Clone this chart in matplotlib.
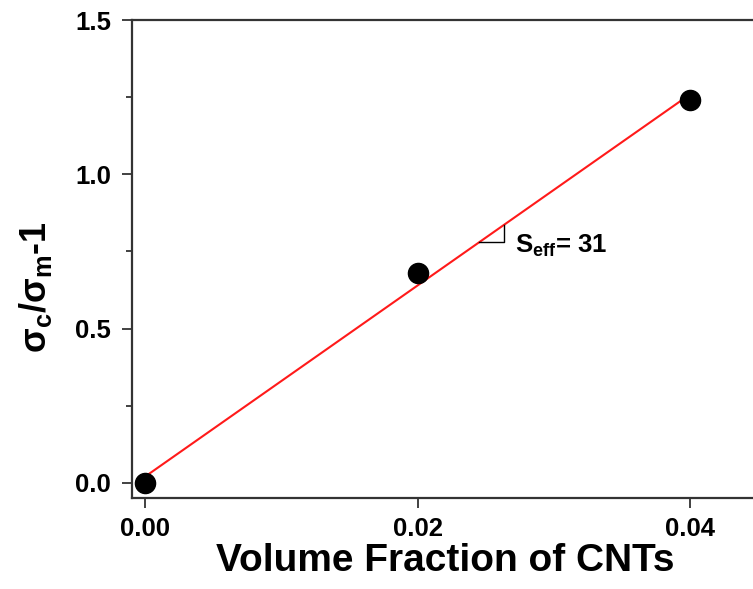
import matplotlib
matplotlib.use("Agg")
import matplotlib.pyplot as plt
import numpy as np

plt.rcParams['font.family'] = ['Liberation Sans', 'DejaVu Sans']
plt.rcParams['mathtext.fontset'] = 'custom'
plt.rcParams['mathtext.rm'] = 'Liberation Sans:bold'
plt.rcParams['mathtext.it'] = 'Liberation Sans:bold'
plt.rcParams['mathtext.bf'] = 'Liberation Sans:bold'

# Data
volume_fraction = [0.00, 0.02, 0.04]
sigma_ratio = [0.00, 0.68, 1.24]
fit_slope = 31.0
fit_intercept = 0.02
fit_range = [0.00, 0.04]
triangle_x = [0.0245, 0.0263]
x_ticks = [0.00, 0.02, 0.04]
x_tick_labels = ['0.00', '0.02', '0.04']
y_ticks = [0.0, 0.5, 1.0, 1.5]
y_tick_labels = ['0.0', '0.5', '1.0', '1.5']

fig = plt.figure(figsize=(7.53, 5.89), dpi=100)
W, H = 753, 589
left, right, top, bottom = 132, 760, 20, 498
ax = fig.add_axes([left / W, 1 - bottom / H, (right - left) / W, (bottom - top) / H])

fx = np.array(fit_range)
ax.plot(fx, fit_intercept + fit_slope * fx, color='#ff1a1a', lw=1.5, zorder=2)
ax.plot(volume_fraction, sigma_ratio, 'o', color='black', ms=14.5, zorder=3)

# slope triangle
tx0, tx1 = triangle_x
ty0 = fit_intercept + fit_slope * tx0
ty1 = fit_intercept + fit_slope * tx1
ax.plot([tx0, tx1, tx1], [ty0, ty0, ty1], color='black', lw=1.0, zorder=2)
ax.text(tx1 + 0.0008, ty0 - 0.01, r'S$_{\mathregular{eff}}$= 31', fontsize=18.5, fontweight='bold',
        va='center', ha='left')

ax.set_xlim(-0.00095, 0.0451)
ax.set_ylim(-0.049, 1.5)
ax.set_xticks(x_ticks)
ax.set_xticklabels(x_tick_labels)
ax.set_yticks(y_ticks)
ax.set_yticklabels(y_tick_labels)
ax.set_yticks([0.25, 0.75, 1.25], minor=True)

for s in ax.spines.values():
    s.set_linewidth(1.6)
    s.set_color('#333333')
ax.tick_params(axis='both', which='major', direction='out', length=7, width=1.3,
               labelsize=18.5, color='#333333')
ax.tick_params(axis='x', which='major', pad=7)
ax.tick_params(axis='y', which='major', pad=8)
ax.tick_params(axis='y', which='minor', direction='out', length=4, width=1.3, color='#333333')
for lab in ax.get_xticklabels() + ax.get_yticklabels():
    lab.set_fontweight('bold')

ax.set_xlabel('Volume Fraction of CNTs', fontsize=28, fontweight='bold')
ax.xaxis.set_label_coords((445 - left) / (right - left), -(561 - bottom) / (bottom - top))
ax.xaxis.label.set_va('center')
ax.set_ylabel(r'$\mathregular{\sigma_c/\sigma_m}$-1', fontsize=26, fontweight='bold')
ax.yaxis.set_label_coords(-(left - 36) / (right - left), (bottom - 287) / (bottom - top))
ax.yaxis.label.set_va('center')

fig.savefig('out.png', dpi=100)
